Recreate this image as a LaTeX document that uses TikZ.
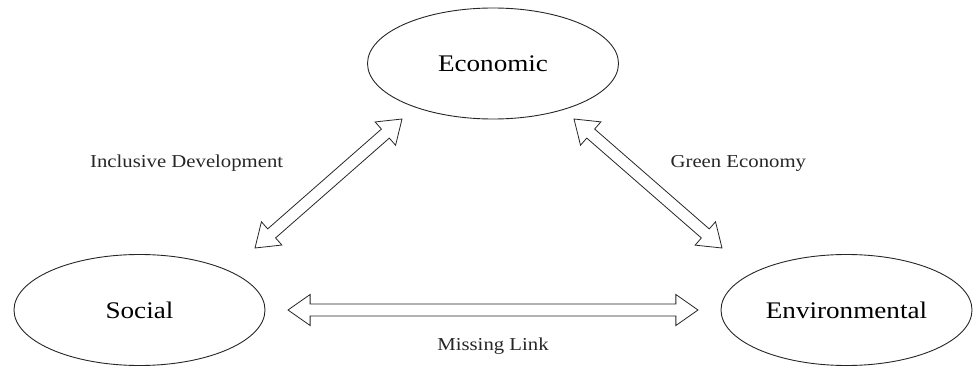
\documentclass[tikz,border=0pt]{standalone}
\usepackage{fontspec}
\setmainfont{Liberation Serif}[FakeStretch=1.14]
\usepackage{tikz}
\usetikzlibrary{shapes.geometric,shapes.arrows,calc}

\begin{document}
\begin{tikzpicture}[x=1pt,y=-1pt,
  pillar/.style={draw=black!85,line width=0.9pt,ellipse,minimum width=251pt,minimum height=111pt,inner sep=0pt,font=\fontsize{23.8}{28}\selectfont},
  linklabel/.style={anchor=base,font=\fontsize{18.2}{22}\selectfont,text=black!85},
  twoway/.style={draw=black!85,line width=0.8pt,double arrow,double arrow tip angle=70,double arrow head extend=9.5pt,double arrow head indent=0pt,inner xsep=0pt,inner ysep=5.6pt,sloped,midway}]
\useasboundingbox (0,0) rectangle (973,366);
% the three pillars
\node[pillar] (eco) at (493,63.5) {Economic};
\node[pillar] (soc) at (139.5,310) {Social};
\node[pillar] (env) at (846.5,310) {Environmental};
% arrow ends
\coordinate (ie-top) at (402,119);
\coordinate (ie-bot) at (255,248);
\coordinate (ge-top) at (574,119);
\coordinate (ge-bot) at (722,248);
\coordinate (ml-left) at (288,310);
\coordinate (ml-right) at (698,310);
% two-way links
\path let \p1=($(ie-top)-(ie-bot)$),\n1={veclen(\x1,\y1)} in
  (ie-bot) -- (ie-top) node[twoway,minimum height=\n1] (ie) {};
\path let \p1=($(ge-bot)-(ge-top)$),\n1={veclen(\x1,\y1)} in
  (ge-top) -- (ge-bot) node[twoway,minimum height=\n1] (ge) {};
\path let \p1=($(ml-right)-(ml-left)$),\n1={veclen(\x1,\y1)} in
  (ml-left) -- (ml-right) node[twoway,minimum height=\n1] (ml) {};
% labels
\node[linklabel] (ie-text) at (186.7,167.5) {Inclusive Development};
\node[linklabel] (ge-text) at (738.3,167.5) {Green Economy};
\node[linklabel] (ml-text) at (493,350.5) {Missing Link};
\end{tikzpicture}
\end{document}
